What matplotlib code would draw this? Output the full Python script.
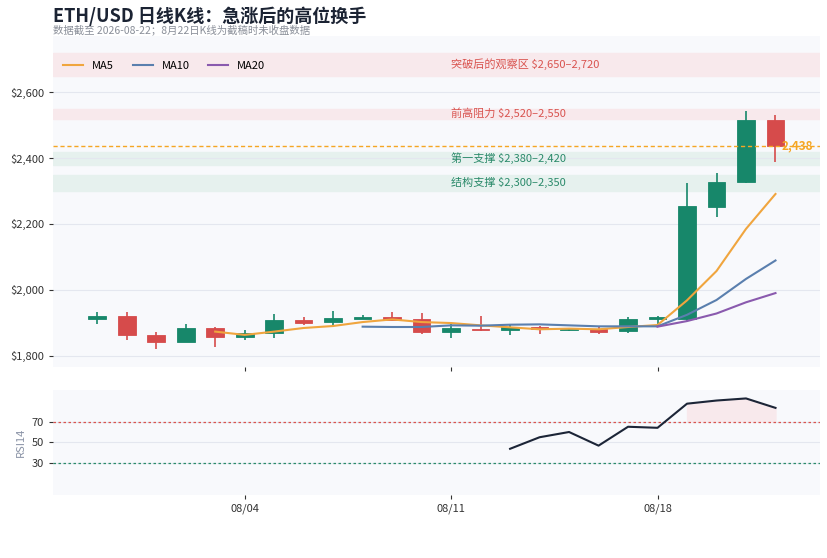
import matplotlib.pyplot as plt
from matplotlib.ticker import FuncFormatter

plt.rcParams['font.family'] = ['Noto Sans CJK SC', 'DejaVu Sans']

dates = ['07/30', '07/31', '08/01', '08/02', '08/03', '08/04', '08/05', '08/06',
         '08/07', '08/08', '08/09', '08/10', '08/11', '08/12', '08/13', '08/14',
         '08/15', '08/16', '08/17', '08/18', '08/19', '08/20', '08/21', '08/22']
opens = [1910, 1920, 1862, 1842, 1884, 1858, 1869, 1909, 1901, 1912, 1917, 1911,
         1872, 1881, 1879, 1887, 1879, 1882, 1874, 1912, 1910, 2250, 2326, 2517]
highs = [1934, 1932, 1872, 1896, 1886, 1879, 1926, 1917, 1936, 1922, 1934, 1929,
         1897, 1921, 1897, 1890, 1884, 1889, 1917, 1919, 2325, 2355, 2543, 2530]
lows = [1895, 1848, 1820, 1840, 1826, 1846, 1854, 1892, 1894, 1911, 1907, 1867,
        1853, 1874, 1864, 1866, 1876, 1867, 1869, 1889, 1904, 2220, 2324, 2388]
closes = [1920, 1862, 1842, 1884, 1858, 1870, 1909, 1900, 1914, 1917, 1909, 1871,
          1884, 1877, 1887, 1880, 1882, 1873, 1912, 1917, 2255, 2326, 2517, 2438]

# moving averages (None = not yet defined)
ma5 = [None] * 4 + [1873, 1863, 1873, 1884, 1890, 1902, 1910, 1902, 1899, 1892,
                    1886, 1880, 1882, 1880, 1887, 1893, 1968, 2057, 2185, 2291]
ma10 = [None] * 9 + [1888, 1887, 1887, 1892, 1891, 1894, 1895, 1892, 1889, 1889,
                     1889, 1924, 1969, 2033, 2089]
ma20 = [None] * 19 + [1888, 1905, 1928, 1962, 1990]
rsi14 = [None] * 14 + [44, 55, 60, 47, 65, 64, 87, 90, 92, 83]

bands = [(2650, 2720, '突破后的观察区 $2,650–2,720', 'red'),
         (2520, 2550, '前高阻力 $2,520–2,550', 'red'),
         (2380, 2420, '第一支撑 $2,380–2,420', 'green'),
         (2300, 2350, '结构支撑 $2,300–2,350', 'green')]
last_price = 2438

UP = '#17876a'
DOWN = '#d64b4b'
band_fill = {'red': '#f8e9ec', 'green': '#e6f1ee'}
band_text = {'red': '#d9534f', 'green': '#2a8a6a'}

fig = plt.figure(figsize=(8.28, 5.58), dpi=100)
ax = fig.add_axes([0.064, 0.342, 0.926, 0.593])
ax2 = fig.add_axes([0.064, 0.113, 0.926, 0.188], sharex=ax)
for a in (ax, ax2):
    a.set_facecolor('#f8f9fc')
    for s in a.spines.values():
        s.set_visible(False)
    a.tick_params(colors='#333333', labelsize=8, length=3, width=0.8)
    a.set_axisbelow(True)

x = list(range(len(dates)))

for lo, hi, label, kind in bands:
    ax.axhspan(lo, hi, color=band_fill[kind], zorder=0.5)
    ax.text(12, (lo + hi) / 2, label, color=band_text[kind], fontsize=8,
            ha='left', va='center', zorder=3)

for i in x:
    c = UP if closes[i] >= opens[i] else DOWN
    ax.vlines(i, lows[i], highs[i], color=c, lw=1.2, zorder=2)
    bottom = min(opens[i], closes[i])
    h = max(abs(closes[i] - opens[i]), 2)
    ax.bar(i, h, bottom=bottom, width=0.6, color=c, edgecolor=c, lw=0.6, zorder=2.5)


def series(vals):
    xs = [i for i, v in zip(x, vals) if v is not None]
    ys = [v for v in vals if v is not None]
    return xs, ys


ax.plot(*series(ma5), color='#f0a53e', lw=1.5, label='MA5', zorder=3)
ax.plot(*series(ma10), color='#5a7fae', lw=1.5, label='MA10', zorder=3)
ax.plot(*series(ma20), color='#8a5aae', lw=1.5, label='MA20', zorder=3)

ax.axhline(last_price, color='#f5a623', lw=1, ls=(0, (3, 2)), zorder=3)
ax.text(len(x) - 1 + 0.2, last_price, f'{last_price:,}', color='#f5a623',
        fontsize=8.5, fontweight='bold', ha='left', va='center', zorder=4)

ax.set_ylim(1765, 2770)
ax.set_yticks([1800, 2000, 2200, 2400, 2600])
ax.yaxis.set_major_formatter(FuncFormatter(lambda v, p: f'${v:,.0f}'))
ax.grid(axis='y', color='#e4e7ef', lw=0.8)
ax.set_xlim(-1.5, len(x) + 0.5)
ax.tick_params(axis='x', labelbottom=False)
ax.legend(loc='upper left', ncol=3, frameon=False, fontsize=8,
          bbox_to_anchor=(0.0, 0.955), handlelength=1.8, columnspacing=1.7)

# RSI panel
rx, ry = series(rsi14)
ax2.plot(rx, ry, color='#1c2537', lw=1.5, zorder=3)
ax2.fill_between(rx, ry, 70, where=[v > 70 for v in ry], color='#f8e9ec', zorder=1)
ax2.axhline(70, color='#d9534f', lw=0.9, ls=(0, (2, 2)), zorder=2)
ax2.axhline(30, color='#2a8a6a', lw=0.9, ls=(0, (2, 2)), zorder=2)
ax2.set_ylim(0, 100)
ax2.set_yticks([30, 50, 70])
ax2.grid(axis='y', color='#e4e7ef', lw=0.8)
ax2.set_ylabel('RSI14', color='#8a93a6', fontsize=8)
ax2.set_xticks([5, 12, 19])
ax2.set_xticklabels([dates[5], dates[12], dates[19]])

fig.text(0.064, 0.971, 'ETH/USD 日线K线：急涨后的高位换手', fontsize=13,
         fontweight='bold', color='#1b2333', va='center')
fig.text(0.064, 0.946, '数据截至 2026-08-22；8月22日K线为截稿时未收盘数据',
         fontsize=7.5, color='#8a8f99', va='center')

fig.savefig('out.png', dpi=100)
